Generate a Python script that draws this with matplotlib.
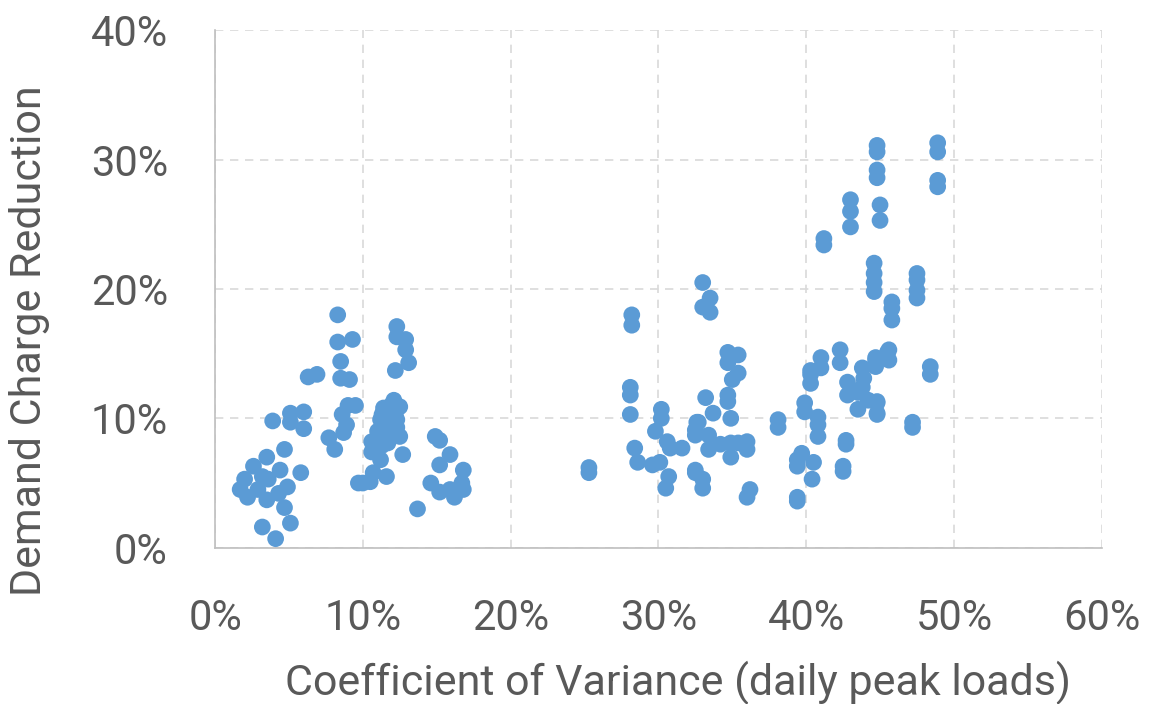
import matplotlib
matplotlib.use("Agg")
import matplotlib.pyplot as plt
from matplotlib.ticker import PercentFormatter

# coefficient of variance (%) and demand charge reduction (%)
cv_low = [3.9, 5.1, 5.1, 6.0, 6.0, 4.7, 2.6, 3.5, 2.0, 1.7, 2.2, 3.2, 3.6, 4.4,
          4.9, 4.3, 3.5, 2.9, 5.8, 4.7, 5.1, 3.2, 4.1]
dcr_low = [9.8, 10.4, 9.7, 10.5, 9.2, 7.6, 6.3, 7.0, 5.3, 4.5, 3.9, 5.5, 5.3, 6.0,
           4.7, 4.2, 3.7, 4.5, 5.8, 3.1, 1.9, 1.6, 0.7]

cv_mid = [8.3, 8.3, 9.3, 8.5, 8.5, 9.1, 6.3, 6.9, 8.6, 9.0, 9.5, 8.7, 7.7, 8.1,
          8.9, 12.3, 12.3, 12.9, 12.9, 13.1, 12.2, 12.5, 11.4, 11.2, 11.0, 10.6,
          11.8, 12.5, 12.7, 11.2, 10.7, 11.6, 9.7, 10.5, 12.3, 12.1, 11.9, 12.2,
          11.3, 11.8, 12.3, 10.6, 11.3, 11.7, 10.0, 14.9, 15.2, 15.9, 15.2, 16.8,
          16.7, 14.6, 15.2, 15.9, 16.2, 16.8, 13.7]
dcr_mid = [18.0, 15.9, 16.1, 14.4, 13.1, 13.0, 13.2, 13.4, 10.3, 11.0, 11.0, 8.9,
           8.5, 7.6, 9.5, 17.1, 16.3, 16.1, 15.3, 14.3, 13.7, 10.9, 10.8, 9.9,
           9.0, 8.2, 8.9, 8.6, 7.2, 6.8, 5.8, 5.5, 5.0, 5.1, 9.9, 11.4, 11.0,
           10.4, 10.3, 9.5, 9.3, 7.4, 7.9, 8.1, 5.0, 8.6, 8.3, 7.2, 6.4, 6.0,
           5.0, 5.0, 4.3, 4.5, 3.9, 4.5, 3.0]

cv_high = [28.2, 28.2, 28.1, 28.1, 28.1, 30.2, 30.2, 29.8, 28.4, 28.6, 29.6, 30.1,
           30.6, 30.8, 31.6, 25.3, 25.3, 30.7, 30.5, 32.5, 32.5, 32.7,
           33.0, 33.5, 33.0, 33.5, 34.7, 35.4, 34.7, 35.4, 35.0, 34.7, 34.7, 33.2,
           33.7, 34.9, 32.6, 32.5, 33.4, 33.4, 34.2, 34.9, 34.9, 35.4, 36.0, 36.0,
           32.5, 33.0, 33.0, 36.0, 36.2, 38.1, 38.1]
dcr_high = [18.0, 17.2, 12.4, 11.8, 10.3, 10.7, 10.0, 9.0, 7.7, 6.6, 6.4, 6.6,
            8.2, 7.7, 7.7, 6.2, 5.8, 5.5, 4.6, 9.1, 5.8, 9.7,
            20.5, 19.3, 18.6, 18.2, 15.1, 14.9, 14.3, 13.5, 13.0, 11.8, 11.3, 11.6,
            10.4, 10.0, 9.7, 8.7, 8.7, 7.6, 8.0, 8.1, 7.0, 8.1, 8.2, 7.6,
            6.0, 5.3, 4.6, 3.9, 4.5, 9.9, 9.3]

cv_top = [39.9, 39.9, 40.8, 40.8, 40.8, 39.7, 39.4, 39.4, 40.5, 40.4, 39.4, 39.4,
          41.0, 41.0, 40.3, 40.3, 40.3, 42.3, 42.3, 42.8, 42.8, 43.8, 43.8, 43.9,
          43.5, 43.5, 44.2, 44.8, 44.8, 44.7, 45.5, 42.7, 42.7, 42.5, 42.5,
          44.8, 44.8, 44.8, 44.8, 48.9, 48.9, 48.9, 48.9, 45.0, 45.0, 44.6, 44.6,
          44.6, 44.6, 45.8, 45.8, 45.8, 47.5, 47.5, 47.5, 47.5, 48.4, 48.4, 47.2,
          47.2, 45.6, 45.6, 44.7, 44.7, 44.8, 44.8, 43.0, 43.0, 43.0, 41.2, 41.2]
dcr_top = [11.2, 10.5, 10.1, 9.5, 8.6, 7.3, 6.8, 6.3, 6.6, 5.3, 3.9, 3.6,
           14.7, 13.9, 13.7, 12.7, 13.4, 15.3, 14.3, 12.8, 11.8, 13.9, 12.4, 13.1,
           12.0, 10.7, 11.4, 11.2, 10.4, 14.5, 15.1, 8.3, 8.0, 6.3, 5.9,
           31.1, 30.6, 29.2, 28.6, 31.3, 30.6, 28.4, 27.9, 26.5, 25.3, 22.0, 21.2,
           20.5, 19.8, 19.0, 18.5, 17.6, 21.2, 20.7, 19.9, 19.3, 14.0, 13.4, 9.7,
           9.3, 15.3, 14.5, 14.7, 14.0, 11.3, 10.3, 26.9, 26.0, 24.8, 23.9, 23.4]

plt.rcParams["font.family"] = ["Roboto", "DejaVu Sans"]

fig = plt.figure(figsize=(11.5, 7.04), dpi=100)
ax = fig.add_axes([0.187, 0.222, 0.771, 0.735])

blue = "#5B9BD5"
for xs, ys in [(cv_low, dcr_low), (cv_mid, dcr_mid), (cv_high, dcr_high), (cv_top, dcr_top)]:
    ax.scatter(xs, ys, s=145, color=blue, edgecolors="none", zorder=3, clip_on=False)

ax.set_xlim(0, 60)
ax.set_ylim(0, 40)
ax.set_xticks(range(0, 61, 10))
ax.set_yticks(range(0, 41, 10))
ax.xaxis.set_major_formatter(PercentFormatter(decimals=0))
ax.yaxis.set_major_formatter(PercentFormatter(decimals=0))

ax.grid(True, color="#D9D9D9", linestyle=(0, (5, 4)), linewidth=1.2, zorder=0)
for side in ["top", "right"]:
    ax.spines[side].set_visible(False)
for side in ["left", "bottom"]:
    ax.spines[side].set_color("#BFBFBF")
    ax.spines[side].set_linewidth(1.2)

ax.tick_params(axis="both", length=0, labelsize=30, labelcolor="#595959")
ax.tick_params(axis="x", pad=36)
ax.tick_params(axis="y", pad=34)

ax.set_xlabel("Coefficient of Variance (daily peak loads)", fontsize=31, color="#595959")
ax.set_ylabel("Demand Charge Reduction", fontsize=31, color="#595959")
ax.xaxis.set_label_coords(0.522, -0.218)
ax.yaxis.set_label_coords(-0.186, 0.40)

fig.savefig("out.png", dpi=100)
